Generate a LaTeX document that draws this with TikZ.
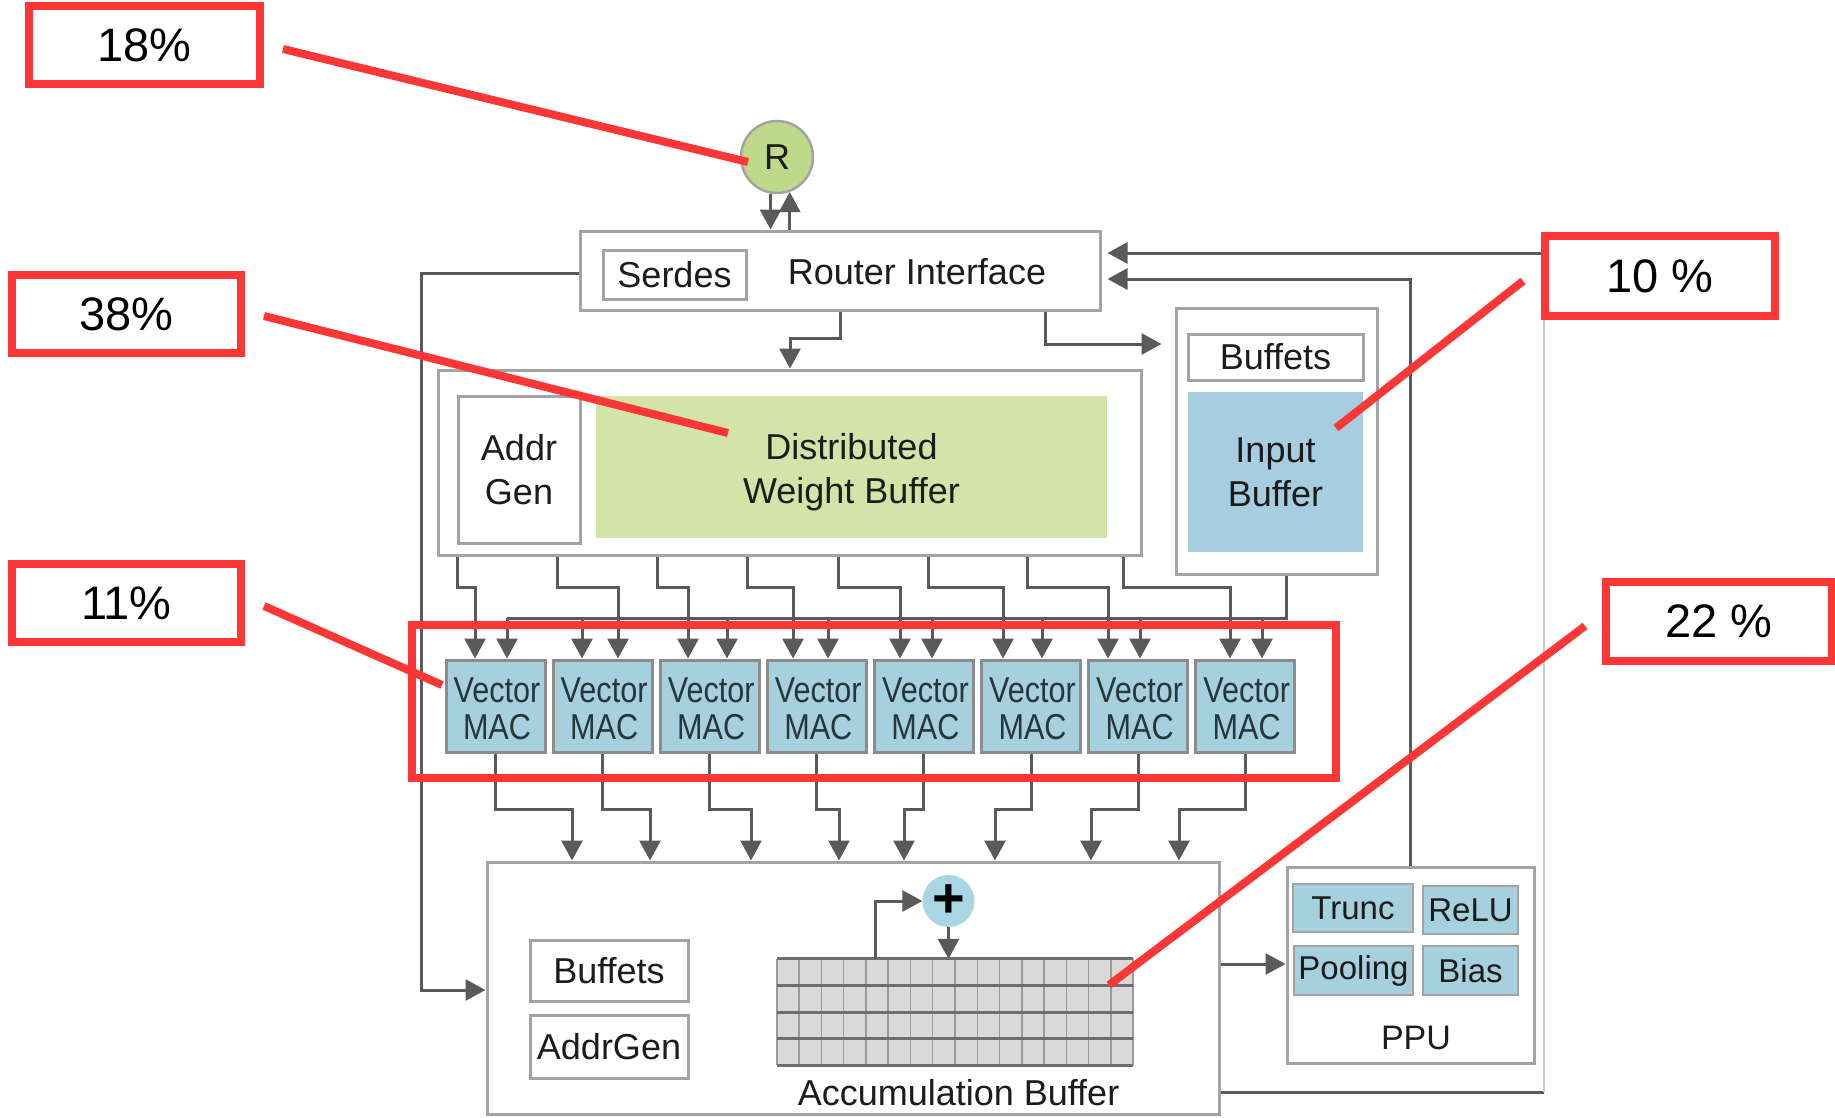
\documentclass[tikz,border=0pt]{standalone}
\usepackage{fontspec}
\setmainfont{Liberation Sans}
\newfontfamily\narrowsans{Liberation Sans}[FakeStretch=0.85]
\usetikzlibrary{arrows.meta,calc}

\definecolor{linegray}{HTML}{5A5A5A}
\definecolor{boxgray}{HTML}{A3A3A3}
\definecolor{macedge}{HTML}{8C8C8C}
\definecolor{macblue}{HTML}{A7D0DF}
\definecolor{bufblue}{HTML}{A6CDE0}
\definecolor{plusblue}{HTML}{A9D6E3}
\definecolor{wbgreen}{HTML}{D3E4A8}
\definecolor{rgreen}{HTML}{BFD98A}
\definecolor{gridfill}{HTML}{D9D9D9}
\definecolor{gridline}{HTML}{9A9A9A}
\definecolor{gridrow}{HTML}{6E6E6E}
\definecolor{faintline}{HTML}{C8C8C8}
\definecolor{hotred}{HTML}{FF3636}
\definecolor{ink}{HTML}{1C1C1C}
\definecolor{macink}{HTML}{26363C}

\begin{document}
\begin{tikzpicture}[x=1pt,y=-1pt,
  txt/.style={font=\fontsize{36}{44}\selectfont, text=ink, inner sep=0pt, align=center},
  blk/.style={draw=boxgray, line width=3pt, fill=white, inner sep=0pt},
  ppubox/.style={draw=boxgray, line width=2.5pt, fill=macblue, inner sep=0pt,
    minimum height=48pt, font=\fontsize{33}{40}\selectfont, text=ink},
  mac/.style={draw=macedge, line width=3pt, fill=macblue, inner sep=0pt,
    minimum width=99pt, minimum height=92pt},
  mactext/.style={align=center, text=macink, inner sep=0pt,
    font=\fontsize{36}{37}\selectfont\narrowsans},
  conn/.style={draw=linegray, line width=3pt},
  arr/.style={conn, -{Triangle[length=20pt,width=21pt]}},
  redbox/.style={draw=hotred, line width=8pt, fill=white, inner sep=0pt,
    font=\fontsize{47}{47}\selectfont, text=black},
  redline/.style={draw=hotred, line width=8pt}
]
\useasboundingbox (0,0) rectangle (1835,1117);

% ---------- outer blocks ----------
\node[blk, minimum width=520pt, minimum height=79pt] (ri) at (840,270.5) {};
\node[txt] (ritext) at (917,272) {Router Interface};
\node[blk, txt, minimum width=143pt, minimum height=49pt] (serdes) at (674.5,274.5) {Serdes};

\node[circle, draw=boxgray, line width=2.5pt, fill=rgreen, minimum size=72pt,
      inner sep=0pt, txt] (R) at (777,157) {R};

\node[blk, minimum width=703pt, minimum height=185pt] (wb) at (789.5,462.5) {};
\node[blk, txt, minimum width=122pt, minimum height=147pt] (ag) at (519,469.5) {Addr\\Gen};
\node[fill=wbgreen, minimum width=511pt, minimum height=142pt, inner sep=0pt] (dwb) at (851.5,467) {};
\node[txt] (dwbtext) at (851.5,472) {Distributed\\Weight Buffer};

\node[blk, minimum width=201pt, minimum height=266pt] (ib) at (1276.5,441) {};
\node[blk, txt, minimum width=175pt, minimum height=46pt] (ibbuf) at (1275.5,357) {Buffets};
\node[txt, fill=bufblue, minimum width=175pt, minimum height=160pt] (inbuf) at (1275.5,472)
  {Input\\Buffer};

\foreach \i in {0,...,7} {
  \node[mac] (mac\i) at ({495.5+107.1*\i},706) {};
  \node[mactext] (mactext\i) at ({497+107.1*\i},709) {Vector\\MAC};
}

\node[blk, minimum width=732pt, minimum height=252pt] (acc) at (853,988) {};
\node[blk, txt, minimum width=158pt, minimum height=61pt] (abuf) at (609,970.5) {Buffets};
\node[blk, txt, minimum width=158pt, minimum height=63pt] (aag) at (609,1046.5) {AddrGen};
\node[txt] (acctext) at (958.5,1093) {Accumulation Buffer};

% accumulation grid: 4 rows x 16 columns
\node[fill=gridfill, minimum width=356pt, minimum height=106pt, inner sep=0pt] (grid) at (955,1012) {};
\foreach \k in {0,...,16}
  \draw[gridline, line width=1.5pt]
    ($(grid.north west)!\k/16!(grid.north east)$) -- ($(grid.south west)!\k/16!(grid.south east)$);
\foreach \k in {0,...,4}
  \draw[gridrow, line width=3pt]
    ($(grid.north west)!\k/4!(grid.south west)$) -- ($(grid.north east)!\k/4!(grid.south east)$);

\node[circle, fill=plusblue, minimum size=52pt, inner sep=0pt,
      font=\fontsize{56}{56}\selectfont\bfseries, text=black] (plus) at (948.5,901) {+};

\node[blk, minimum width=247pt, minimum height=196pt] (ppu) at (1410.5,965) {};
\node[ppubox, minimum width=120pt] (trunc) at (1353,908) {Trunc};
\node[ppubox, minimum width=95pt] (relu) at (1470.5,910) {ReLU};
\node[ppubox, minimum width=119pt, minimum height=49pt] (pool) at (1353.5,970.5) {Pooling};
\node[ppubox, minimum width=95pt, minimum height=49pt] (bias) at (1470.5,970.5) {Bias};
\node[txt, font=\fontsize{34}{40}\selectfont] (pputext) at (1416,1038) {PPU};

% ---------- connectors ----------
\draw[arr] (R.-100) -- (R.-100 |- ri.north);
\draw[arr] (ri.north -| R.-70) -- (R.-70);

\draw[arr] (840,0 |- ri.south) -- (840,338) -| (790,0 |- wb.north);
\draw[arr, shorten >=13pt] (1045,0 |- ri.south) |- (ib.west |- 0,344);

% Serdes side: router interface back to the accumulation buffer
\draw[arr] (ri.west |- 0,273) -| (421,990) -- (acc.west |- 0,990);

% weight buffer to the MAC array
\foreach \xw/\xt/\i in {457/475/0, 557/618/1, 657/688/2, 747/793/3,
                        838/900/4, 928/1003/5, 1027/1108/6, 1123/1230/7}
  \draw[arr] (\xw,0 |- wb.south) -- (\xw,587) -| (\xt,0 |- mac\i.north);

% input buffer broadcast bus
\draw[conn] (1286,0 |- ib.south) |- (507,618);
\foreach \xb/\i in {507/0, 582/1, 727/2, 828/3, 932/4, 1042/5, 1140/6, 1262/7}
  \draw[arr] (\xb,618) -- (\xb,0 |- mac\i.north);

% MAC outputs into the accumulation buffer
\foreach \xa/\i in {572/0, 650/1, 751/2, 839/3, 904/4, 995/5, 1091/6, 1179/7}
  \draw[arr] (mac\i.south) -- ++(0,56) -| (\xa,0 |- acc.north);

% accumulate loop
\draw[arr] (plus.south) -- (plus.south |- grid.north);
\draw[arr] (875,0 |- grid.north) |- (plus.west);

% post-processing and return paths
\draw[arr] (acc.east |- 0,964) -- (ppu.west |- 0,964);
\draw[arr, shorten >=6pt] (ppu.north) |- (ri.east |- 0,279);
\draw[conn] (acc.east |- 0,1092) -- (1544,1092);
\draw[faintline, line width=2pt] (1544,1092) -- (1544,253);
\draw[arr, shorten >=6pt] (1544,253) -- (ri.east |- 0,253);

% ---------- area annotations ----------
\node[redbox, minimum width=231pt, minimum height=78pt] (p18) at (144.5,45) {18\%};
\node[redbox, minimum width=229pt, minimum height=78pt] (p38) at (126.5,314) {38\%};
\node[redbox, minimum width=229pt, minimum height=78pt] (p11) at (126.5,603) {11\%};
\node[redbox, minimum width=230pt, minimum height=80pt] (p10) at (1660,276) {10 \%};
\node[redbox, minimum width=226pt, minimum height=79pt] (p22) at (1719,621.5) {22 \%};
\node[draw=hotred, line width=8pt, minimum width=924pt, minimum height=153pt,
      inner sep=0pt] (macgroup) at (874,701.5) {};

\coordinate (t18) at (748,162);
\coordinate (t38) at (728,433);
\coordinate (t11) at (442,685);
\coordinate (t10) at (1336,428);
\coordinate (t22) at (1109,985);

\draw[redline] ($(p18.east)+(19,4)$) -- (t18);
\draw[redline] ($(p38.east)+(19,2)$) -- (t38);
\draw[redline] ($(p11.east)+(19,3)$) -- (t11);
\draw[redline] ($(p10.west)+(-18,5)$) -- (t10);
\draw[redline] ($(p22.west)+(-17,4.5)$) -- (t22);
\end{tikzpicture}
\end{document}
